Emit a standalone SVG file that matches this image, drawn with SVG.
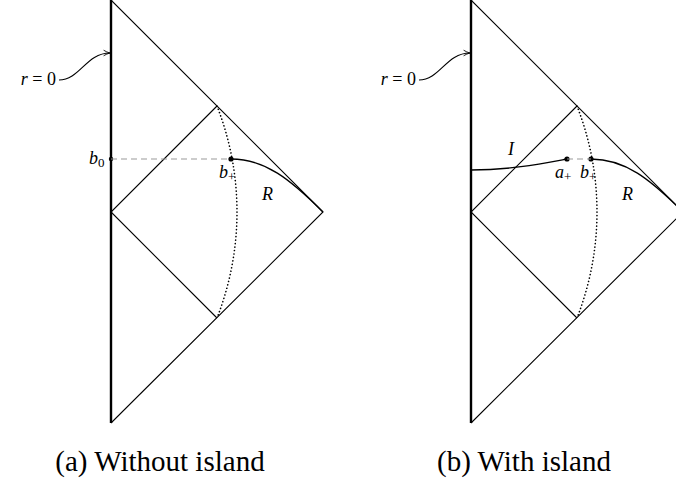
<svg xmlns="http://www.w3.org/2000/svg" width="676" height="490" viewBox="0 0 676 490">
<defs>
<marker id="arr" viewBox="0 0 10 10" refX="9" refY="5" markerWidth="8" markerHeight="8" markerUnits="userSpaceOnUse" orient="auto">
<path d="M1,1.5 Q5,4 9,5 Q5,6 1,8.5" fill="none" stroke="#000" stroke-width="1.1"/>
</marker>
<style>
.thick{stroke:#000;stroke-width:2.4;fill:none}
.thin{stroke:#000;stroke-width:1.1;fill:none}
.dot{stroke:#000;stroke-width:1.6;fill:none;stroke-dasharray:0.1 3.4;stroke-linecap:round}
.dash{stroke:#999;stroke-width:1;fill:none;stroke-dasharray:6 4}
.curve{stroke:#000;stroke-width:1.3;fill:none}
.lab{font-family:"Liberation Serif",serif;font-style:italic;font-size:18px;fill:#000}
.num{font-family:"Liberation Serif",serif;font-style:normal}
.cap{font-family:"Liberation Serif",serif;font-size:29px;fill:#000;text-anchor:middle}
</style>
</defs>
<g id="diagram-a">
<g id="a-frame">
<path class="thick" d="M111,0 L111,423"/>
<path class="thin" d="M111,0 L323,212 L111,423"/>
<path class="thin" d="M217,106 L111,212 L217,318"/>
<path class="dot" d="M217,106 A291,291 0 0 1 217,318"/>
</g>
<g id="a-r0">
<text class="lab" x="56" y="85" text-anchor="end">r <tspan class="num">= 0</tspan></text>
</g>
<g id="a-b0">
<circle cx="111" cy="159" r="2.2"/>
<text class="lab" x="89" y="164">b<tspan class="num" font-size="13" dy="3">0</tspan></text>
</g>
<g id="a-bplus">
<circle cx="231" cy="159" r="2.6"/>
<text class="lab" x="219" y="178">b<tspan class="num" font-size="13" dy="3">+</tspan></text>
</g>
<g id="a-R">
<text class="lab" x="262" y="200">R</text>
</g>
<g id="a-caption"><text class="cap" x="160" y="471">(a) Without island</text></g>
</g>
<g id="diagram-b">
<g id="b-frame">
<path class="thick" d="M471,0 L471,423"/>
<path class="thin" d="M471,0 L683,212 L471,423"/>
<path class="thin" d="M577,106 L471,212 L577,318"/>
<path class="dot" d="M577,106 A291,291 0 0 1 577,318"/>
</g>
<g id="b-r0">
<text class="lab" x="416" y="85" text-anchor="end">r <tspan class="num">= 0</tspan></text>
</g>
<g id="b-aplus">
<circle cx="567" cy="159" r="2.6"/>
<text class="lab" x="555" y="178">a<tspan class="num" font-size="13" dy="3">+</tspan></text>
</g>
<g id="b-bplus">
<circle cx="591" cy="159" r="2.6"/>
<text class="lab" x="580" y="178">b<tspan class="num" font-size="13" dy="3">+</tspan></text>
</g>
<g id="b-I"><text class="lab" x="508" y="155">I</text></g>
<g id="b-R"><text class="lab" x="622" y="200">R</text></g>
<g id="b-caption"><text class="cap" x="524" y="471">(b) With island</text></g>
</g>
<g id="connectors">
<path class="thin" d="M59,80 C80,80 86,53 110,53" marker-end="url(#arr)"/>
<path class="dash" d="M111,159 L231,159"/>
<path class="curve" d="M231,159 C265,159 290,179 323,212"/>
<path class="thin" d="M419,80 C440,80 446,53 470,53" marker-end="url(#arr)"/>
<path class="dash" d="M567,159 L591,159"/>
<path class="curve" d="M471,170 C510,170 540,164 567,159"/>
<path class="curve" d="M591,159 C625,159 650,179 683,212"/>
</g>
</svg>
